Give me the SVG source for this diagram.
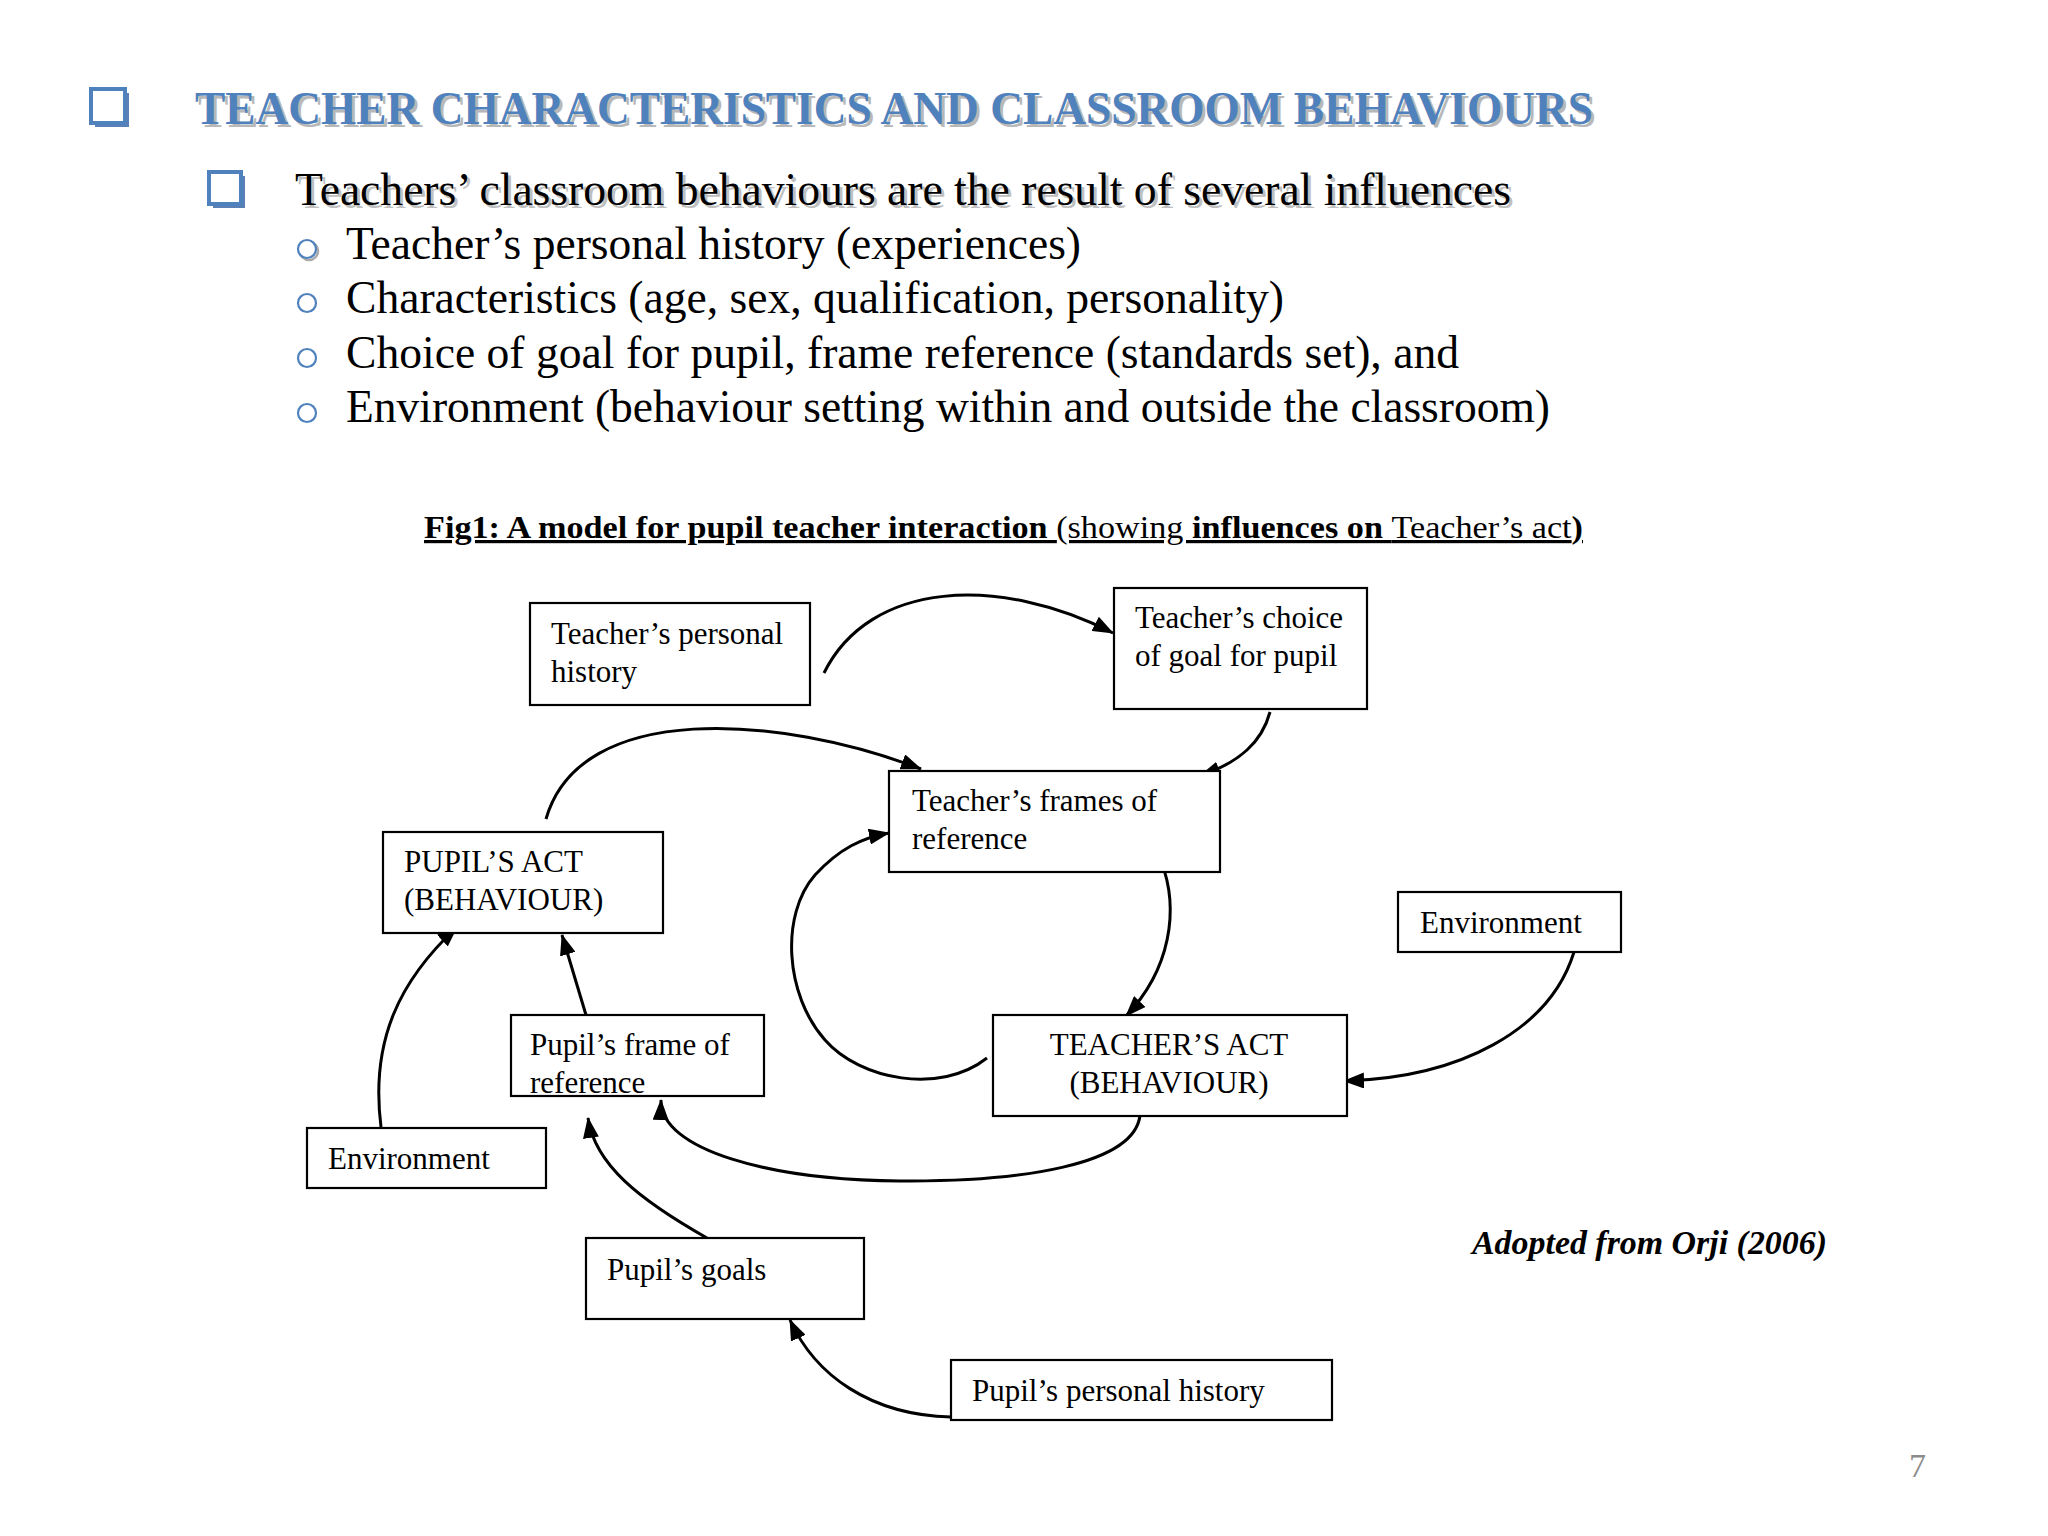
<svg xmlns="http://www.w3.org/2000/svg" width="2048" height="1536" viewBox="0 0 2048 1536">
<defs>
<style>
text{font-family:"Liberation Serif","Times New Roman",serif;fill:#000}
.box{fill:#fff;stroke:#000;stroke-width:2.2}
.lbl{font-size:31px}
.conn path{fill:none;stroke:#000;stroke-width:3}
.sub{font-size:46px}
.bul{fill:#fff;stroke:#4F81BD;stroke-width:2.2}
</style>
<marker id="ah" markerWidth="21" markerHeight="16" refX="20" refY="8" orient="auto" markerUnits="userSpaceOnUse">
<path d="M0,0 L21,8 L0,16 z" fill="#000"/>
</marker>
</defs>
<rect width="2048" height="1536" fill="#fff"/>

<g id="title">
<rect x="95" y="93" width="34" height="34" fill="#5a7fb5"/>
<rect x="91" y="89" width="34" height="34" fill="#fff" stroke="#4F81BD" stroke-width="4"/>
<text x="198" y="127" font-size="46" font-weight="bold" textLength="1398" lengthAdjust="spacingAndGlyphs" style="fill:#b8b8b8">TEACHER CHARACTERISTICS AND CLASSROOM BEHAVIOURS</text>
<text x="195" y="124" font-size="46" font-weight="bold" textLength="1398" lengthAdjust="spacingAndGlyphs" style="fill:#4F81BD">TEACHER CHARACTERISTICS AND CLASSROOM BEHAVIOURS</text>
</g>

<g id="intro">
<rect x="213" y="176" width="32" height="32" fill="#5a7fb5"/>
<rect x="209" y="172" width="32" height="32" fill="#fff" stroke="#4F81BD" stroke-width="4"/>
<text x="298" y="208" font-size="46" textLength="1216" lengthAdjust="spacingAndGlyphs" style="fill:#c0c0c0">Teachers’ classroom behaviours are the result of several influences</text>
<text x="295" y="205" font-size="46" textLength="1216" lengthAdjust="spacingAndGlyphs">Teachers’ classroom behaviours are the result of several influences</text>
</g>

<g id="bullets">
<circle cx="309" cy="251" r="9" fill="none" stroke="#aaa" stroke-width="2.5"/>
<circle cx="307" cy="249" r="9" class="bul"/>
<circle cx="307" cy="303" r="9" class="bul"/>
<circle cx="307" cy="358" r="9" class="bul"/>
<circle cx="307" cy="413" r="9" class="bul"/>
<text class="sub" x="346" y="259" textLength="735" lengthAdjust="spacingAndGlyphs">Teacher’s personal history (experiences)</text>
<text class="sub" x="346" y="313" textLength="938" lengthAdjust="spacingAndGlyphs">Characteristics (age, sex, qualification, personality)</text>
<text class="sub" x="346" y="368" textLength="1113" lengthAdjust="spacingAndGlyphs">Choice of goal for pupil, frame reference (standards set), and</text>
<text class="sub" x="346" y="422" textLength="1204" lengthAdjust="spacingAndGlyphs">Environment (behaviour setting within and outside the classroom)</text>
</g>

<g id="caption">
<text x="424" y="538" font-size="32" textLength="1159" lengthAdjust="spacingAndGlyphs" text-decoration="underline"><tspan font-weight="bold">Fig1: A model for pupil teacher interaction </tspan><tspan>(showing </tspan><tspan font-weight="bold">influences on </tspan><tspan>Teacher’s act</tspan><tspan font-weight="bold">)</tspan></text>
</g>

<g class="conn" id="connectors">
<path d="M824,673 C870,580 1000,575 1113,633" marker-end="url(#ah)"/>
<path d="M1270,712 C1262,742 1240,762 1200,776" marker-end="url(#ah)"/>
<path d="M546,819 C580,700 780,715 921,769" marker-end="url(#ah)"/>
<path d="M1161,861 C1180,910 1170,970 1126,1016" marker-end="url(#ah)"/>
<path d="M987,1058 C940,1095 860,1080 825,1040 C785,995 780,915 815,875 C840,848 862,838 889,833" marker-end="url(#ah)"/>
<path d="M1574,952 C1550,1030 1460,1078 1344,1081" marker-end="url(#ah)"/>
<path d="M1140,1115 C1135,1165 1020,1182 900,1181 C770,1180 660,1150 661,1100" marker-end="url(#ah)"/>
<path d="M586,1015 L562,935" marker-end="url(#ah)"/>
<path d="M381,1127 C370,1040 400,980 457,927" marker-end="url(#ah)"/>
<path d="M707,1238 C640,1200 595,1165 588,1118" marker-end="url(#ah)"/>
<path d="M951,1417 C870,1415 815,1375 790,1320" marker-end="url(#ah)"/>
</g>

<g id="n-teacher-history">
<rect class="box" x="530" y="603" width="280" height="102"/>
<text class="lbl" x="551" y="644">Teacher’s personal</text>
<text class="lbl" x="551" y="682">history</text>
</g>
<g id="n-teacher-goal">
<rect class="box" x="1114" y="588" width="253" height="121"/>
<text class="lbl" x="1135" y="628">Teacher’s choice</text>
<text class="lbl" x="1135" y="666">of goal for pupil</text>
</g>
<g id="n-teacher-frames">
<rect class="box" x="889" y="771" width="331" height="101"/>
<text class="lbl" x="912" y="811">Teacher’s frames of</text>
<text class="lbl" x="912" y="849">reference</text>
</g>
<g id="n-pupil-act">
<rect class="box" x="383" y="832" width="280" height="101"/>
<text class="lbl" x="404" y="872">PUPIL’S ACT</text>
<text class="lbl" x="404" y="910">(BEHAVIOUR)</text>
</g>
<g id="n-env-right">
<rect class="box" x="1398" y="892" width="223" height="60"/>
<text class="lbl" x="1420" y="933">Environment</text>
</g>
<g id="n-pupil-frame">
<rect class="box" x="511" y="1015" width="253" height="81"/>
<text class="lbl" x="530" y="1055">Pupil’s frame of</text>
<text class="lbl" x="530" y="1093">reference</text>
</g>
<g id="n-teacher-act">
<rect class="box" x="993" y="1015" width="354" height="101"/>
<text class="lbl" x="1169" y="1055" text-anchor="middle">TEACHER’S ACT</text>
<text class="lbl" x="1169" y="1093" text-anchor="middle">(BEHAVIOUR)</text>
</g>
<g id="n-env-left">
<rect class="box" x="307" y="1128" width="239" height="60"/>
<text class="lbl" x="328" y="1169">Environment</text>
</g>
<g id="n-pupil-goals">
<rect class="box" x="586" y="1238" width="278" height="81"/>
<text class="lbl" x="607" y="1280">Pupil’s goals</text>
</g>
<g id="n-pupil-history">
<rect class="box" x="951" y="1360" width="381" height="60"/>
<text class="lbl" x="972" y="1401">Pupil’s personal history</text>
</g>

<g id="source">
<text x="1472" y="1254" font-size="33" font-weight="bold" font-style="italic" textLength="355" lengthAdjust="spacingAndGlyphs">Adopted from Orji (2006)</text>
</g>
<g id="page">
<text x="1909" y="1477" font-size="34" style="fill:#8c8c8c">7</text>
</g>
</svg>
